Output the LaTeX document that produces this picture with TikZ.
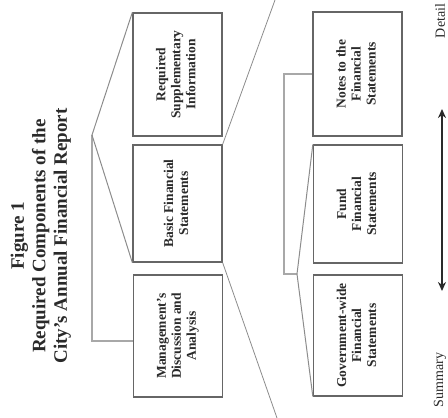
\documentclass[tikz,border=0pt]{standalone}
\usepackage{fontspec}
\setmainfont{Liberation Serif}
\usetikzlibrary{arrows.meta}
\definecolor{boxline}{HTML}{666666}
\definecolor{ink}{HTML}{2A2A2A}
\definecolor{lightline}{HTML}{A8A8A8}
\definecolor{diagline}{HTML}{8C8C8C}
\newcommand\rotlines[1]{\rotatebox{90}{\begin{tabular}{@{}c@{}}#1\end{tabular}}}
\begin{document}
\begin{tikzpicture}[x=1pt,y=-1pt,
  box/.style={draw=boxline,line width=1.3pt,minimum width=89pt,inner sep=0pt,text=ink,font=\bfseries\fontsize{13.5}{15}\selectfont},
  titletext/.style={inner sep=0pt,text=ink,font=\bfseries\fontsize{19}{21.5}\selectfont},
  endlabel/.style={inner sep=0pt,text=ink,font=\fontsize{14}{16}\selectfont},
  bracket/.style={draw=diagline,line width=1pt},
  guide/.style={draw=lightline,line width=1.2pt},
  zoomline/.style={draw=diagline,line width=0.8pt},
  scalearrow/.style={draw=ink,line width=2pt,{Stealth[length=9pt,width=8pt]}-{Stealth[length=9pt,width=8pt]}}
]
\useasboundingbox (0,0) rectangle (448,418);

% title
\node[titletext] (title) at (41,236) {\rotlines{Figure 1\\Required Components of the\\City’s Annual Financial Report}};

% top row
\node[box,minimum height=123pt] (rsi) at (177.5,74.5) {\rotlines{Required\\Supplementary\\Information}};
\node[box,minimum height=117pt] (bfs) at (177.5,203.5) {\rotlines{Basic Financial\\Statements}};
\node[box,minimum height=122pt] (mda) at (178,336) {\rotlines{Management’s\\Discussion and\\Analysis}};

% bottom row
\node[box,minimum height=124pt] (nfs) at (357.5,74) {\rotlines{Notes to the\\Financial\\Statements}};
\node[box,minimum height=118pt] (ffs) at (358,204) {\rotlines{Fund\\Financial\\Statements}};
\node[box,minimum height=121pt] (gfs) at (358,335.5) {\rotlines{Government-wide\\Financial\\Statements}};

% top bracket
\coordinate (A) at (92,135);
\path (mda.west) ++(0,5) coordinate (mdaG);
\draw[guide] (A) |- (mdaG);
\draw[bracket] (rsi.north west) -- (A) -- (bfs.south west);

% bottom bracket
\coordinate (B) at (297,274);
\coordinate (C) at (284,274);
\draw[guide] (B) -- (C) |- (nfs.west);
\draw[bracket] (ffs.north west) -- (B) -- (gfs.south west);

% zoom lines from Basic Financial Statements
\coordinate (Z1) at (275,0);
\coordinate (Z2) at (277,418);
\draw[zoomline] (bfs.north east) -- (Z1);
\draw[zoomline] (bfs.south east) -- (Z2);

% scale arrow
\coordinate (arrTop) at (442,109);
\coordinate (arrBot) at (442,291);
\draw[scalearrow] (arrBot) -- (arrTop);
\node[endlabel] (detail) at (440,21) {\rotatebox{90}{Detail}};
\node[endlabel] (summary) at (440,380) {\rotatebox{90}{Summary}};
\end{tikzpicture}
\end{document}
